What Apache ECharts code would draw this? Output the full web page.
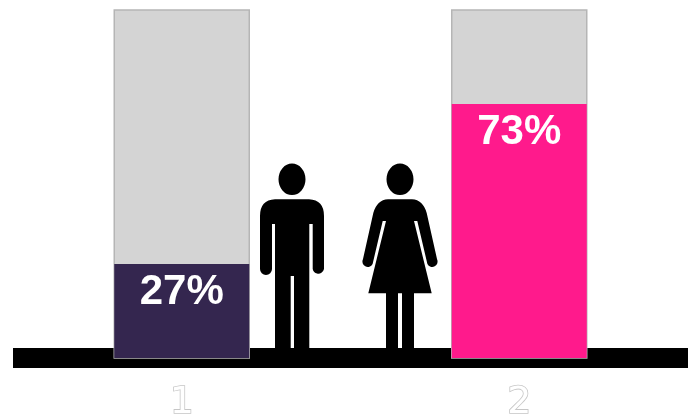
<!DOCTYPE html>
<html>
<head>
<meta charset="utf-8">
<style>html,body{margin:0;padding:0;background:#fff}#c{width:695px;height:417px}</style>
<script src="https://cdn.jsdelivr.net/npm/echarts@6/dist/echarts.min.js"></script>
</head>
<body>
<div id="c"></div>
<script>
const categories = ['1', '2'];
const values = [27, 73];
const barColors = ['#34264f', '#ff1a8c'];
const valueLabels = ['27%', '73%'];

const manPath = 'M278.5 179.3a13.5 15.7 0 1 0 27 0a13.5 15.7 0 1 0 -27 0Z' +
  'M275 199.3H309Q324 200 324 216V269a5.8 6 0 0 1 -11.3 0V224H309.3V348H294V276H290.7V348H275V224H272V269a6 6 0 0 1 -12 0V216Q260 200 275 199.3Z';
const womanPath = 'M386.5 179.3a13.5 15.7 0 1 0 27 0a13.5 15.7 0 1 0 -27 0Z' +
  'M388 199.3H412Q423 200 426.7 213L437 259a5.2 5.2 0 0 1 -9.6 5L417.3 221H414L431.7 293.3H414V348H402V293.3H398V348H386V293.3H368.3L386 221H382.7L372.6 264a5.2 5.2 0 0 1 -9.6 -5L373.3 213Q377 200 388 199.3Z';
const figurePaths = [manPath, womanPath];

const chart = echarts.init(document.getElementById('c'), null, {renderer: 'canvas'});
chart.setOption({
  animation: false,
  backgroundColor: '#ffffff',
  grid: {left: 13, right: 7, top: 10, bottom: 59, outerBoundsMode: 'none', containLabel: false},
  xAxis: {
    type: 'category',
    data: categories,
    axisLine: {show: true, lineStyle: {color: '#000000', width: 20, cap: 'butt'}},
    axisTick: {show: false},
    axisLabel: {
      margin: 26,
      fontFamily: 'DejaVu Sans',
      fontSize: 38,
      color: '#ffffff',
      textBorderColor: '#c6c6c6',
      textBorderWidth: 1.6
    }
  },
  yAxis: {type: 'value', min: 0, max: 100, show: false},
  series: [{
    type: 'bar',
    barWidth: '40%',
    showBackground: true,
    backgroundStyle: {color: '#d4d4d4', borderColor: '#b5b5b5', borderWidth: 1.5},
    data: values.map((v, i) => ({value: v, itemStyle: {color: barColors[i]}})),
    label: {
      show: true,
      position: 'insideTop',
      distance: 7,
      formatter: p => valueLabels[p.dataIndex],
      fontFamily: 'Liberation Sans',
      fontWeight: 'bold',
      fontSize: 42,
      color: '#ffffff'
    }
  }, {
    type: 'custom',
    coordinateSystem: 'none',
    silent: true,
    z: 5,
    data: [0, 1],
    renderItem: (params) => ({
      type: 'path',
      shape: {pathData: figurePaths[params.dataIndex]},
      style: {fill: '#000000'}
    })
  }]
});
</script>
</body>
</html>
